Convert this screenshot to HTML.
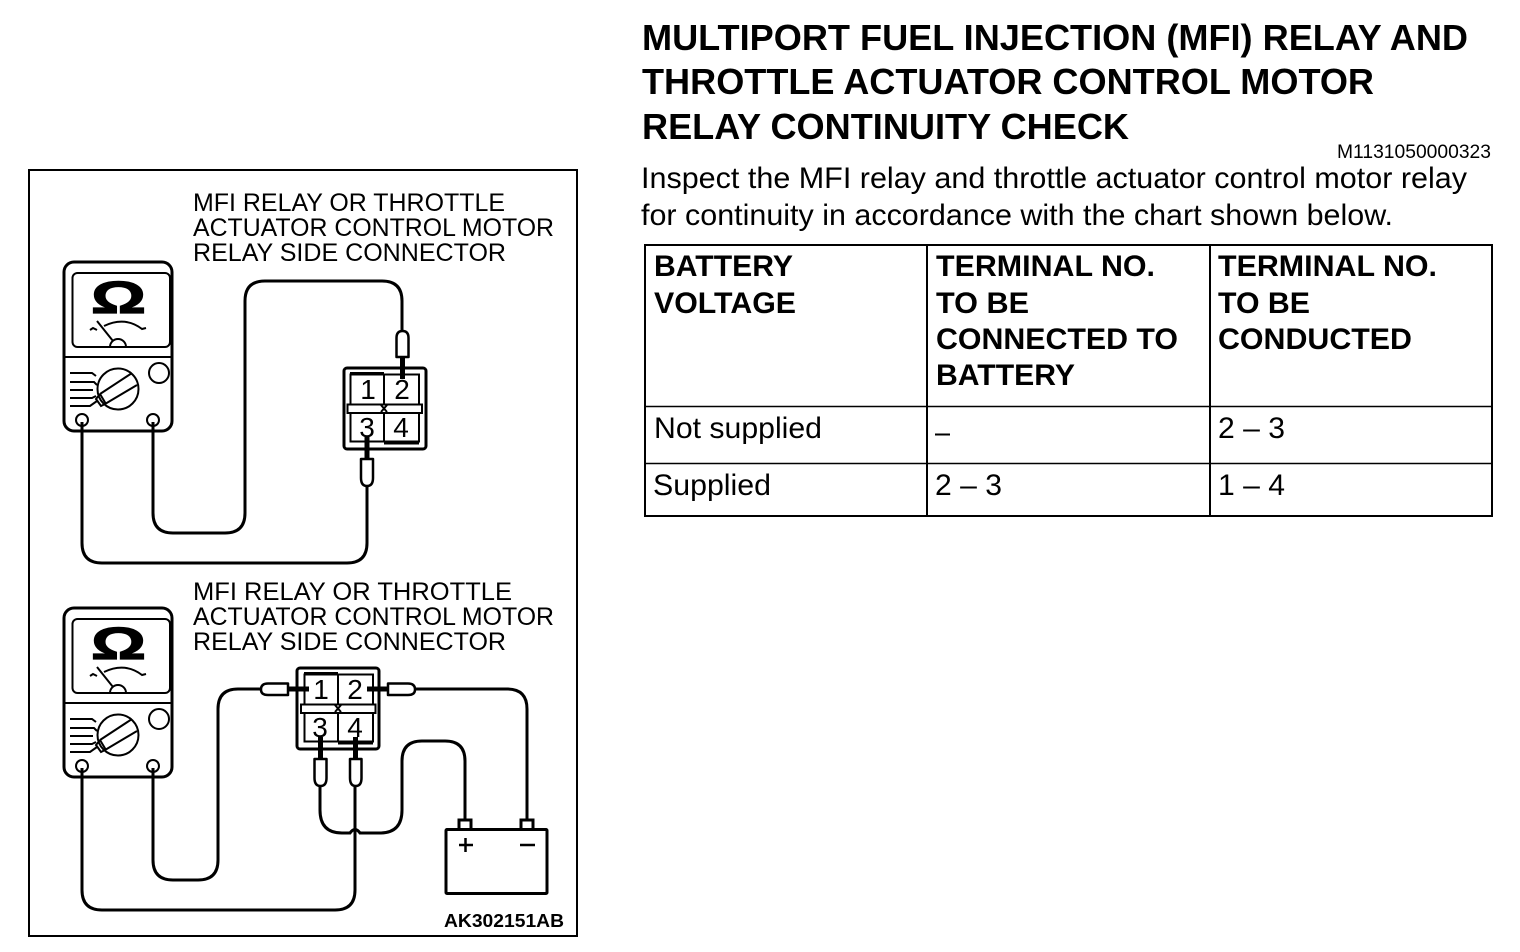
<!DOCTYPE html>
<html><head><meta charset="utf-8"><style>
html,body{margin:0;padding:0;background:#fff}
svg{display:block}
text{font-family:"Liberation Sans",sans-serif;fill:#000}
.t{font-weight:bold;font-size:36px}
.p{font-size:30px}
.h{font-weight:bold;font-size:30px}
.c{font-size:30px}
.l{font-size:25px}
.n{font-size:28px}
.w{fill:none;stroke:#000;stroke-width:3}
.m{fill:none;stroke:#000;stroke-width:2}
.th{fill:none;stroke:#000;stroke-width:5}
.o{font-weight:bold;font-size:45px;stroke:#000;stroke-width:1.200}
.pr{fill:#fff;stroke:#000;stroke-width:2.500;stroke-linejoin:round}
</style></head><body>
<svg width="1520" height="952" viewBox="0 0 1520 952" xmlns="http://www.w3.org/2000/svg">
<rect width="1520" height="952" fill="#fff"/>

<text class="t" x="642" y="50" textLength="826" lengthAdjust="spacingAndGlyphs">MULTIPORT FUEL INJECTION (MFI) RELAY AND</text>
<text class="t" x="642" y="94" textLength="732" lengthAdjust="spacingAndGlyphs">THROTTLE ACTUATOR CONTROL MOTOR</text>
<text class="t" x="642" y="139" textLength="487" lengthAdjust="spacingAndGlyphs">RELAY CONTINUITY CHECK</text>
<text x="1337" y="158" font-size="19" textLength="154" lengthAdjust="spacingAndGlyphs">M1131050000323</text>
<text class="p" x="641" y="188" textLength="826" lengthAdjust="spacingAndGlyphs">Inspect the MFI relay and throttle actuator control motor relay</text>
<text class="p" x="641" y="225" textLength="752" lengthAdjust="spacingAndGlyphs">for continuity in accordance with the chart shown below.</text>

<g fill="none" stroke="#000">
<rect x="645" y="245" width="847" height="271" stroke-width="2"/>
<path d="M927 245V516M1210 245V516" stroke-width="2"/>
<path d="M645 406.500H1492M645 463.500H1492" stroke-width="1.500"/>
</g>
<text class="h" x="654" y="276" textLength="139" lengthAdjust="spacingAndGlyphs">BATTERY</text>
<text class="h" x="654" y="313" textLength="142" lengthAdjust="spacingAndGlyphs">VOLTAGE</text>
<text class="h" x="936" y="276" textLength="219" lengthAdjust="spacingAndGlyphs">TERMINAL NO.</text>
<text class="h" x="936" y="313" textLength="93" lengthAdjust="spacingAndGlyphs">TO BE</text>
<text class="h" x="936" y="349" textLength="242" lengthAdjust="spacingAndGlyphs">CONNECTED TO</text>
<text class="h" x="936" y="385" textLength="139" lengthAdjust="spacingAndGlyphs">BATTERY</text>
<text class="h" x="1218" y="276" textLength="219" lengthAdjust="spacingAndGlyphs">TERMINAL NO.</text>
<text class="h" x="1218" y="313" textLength="92" lengthAdjust="spacingAndGlyphs">TO BE</text>
<text class="h" x="1218" y="349" textLength="194" lengthAdjust="spacingAndGlyphs">CONDUCTED</text>
<text class="c" x="654" y="438" textLength="168" lengthAdjust="spacingAndGlyphs">Not supplied</text>
<text class="c" x="935" y="442" textLength="15" lengthAdjust="spacingAndGlyphs">–</text>
<text class="c" x="1218" y="438" textLength="67" lengthAdjust="spacingAndGlyphs">2 – 3</text>
<text class="c" x="653" y="495" textLength="118" lengthAdjust="spacingAndGlyphs">Supplied</text>
<text class="c" x="935" y="495" textLength="67" lengthAdjust="spacingAndGlyphs">2 – 3</text>
<text class="c" x="1218" y="495" textLength="67" lengthAdjust="spacingAndGlyphs">1 – 4</text>

<rect x="29" y="170" width="548" height="766" fill="none" stroke="#000" stroke-width="2"/>

<text class="l" x="193" y="211" textLength="312" lengthAdjust="spacingAndGlyphs">MFI RELAY OR THROTTLE</text>
<text class="l" x="193" y="236" textLength="361" lengthAdjust="spacingAndGlyphs">ACTUATOR CONTROL MOTOR</text>
<text class="l" x="193" y="261" textLength="313" lengthAdjust="spacingAndGlyphs">RELAY SIDE CONNECTOR</text>
<text class="l" x="193" y="600" textLength="319" lengthAdjust="spacingAndGlyphs">MFI RELAY  OR THROTTLE</text>
<text class="l" x="193" y="625" textLength="361" lengthAdjust="spacingAndGlyphs">ACTUATOR CONTROL MOTOR</text>
<text class="l" x="193" y="650" textLength="313" lengthAdjust="spacingAndGlyphs">RELAY SIDE CONNECTOR</text>

<!-- meter 1 -->
<g>
<rect x="64" y="262" width="108" height="169" rx="10" class="w"/>
<rect x="72.500" y="273" width="97.500" height="74" rx="5" class="m"/>
<path d="M64 357H172" class="m"/>
<text class="o" x="91" y="313" textLength="55" lengthAdjust="spacingAndGlyphs">Ω</text>
<path d="M90 330L93 328L97 330M104 326Q125 316 142 329L146 328M97 321L113 341" class="m"/>
<path d="M110 347A8 8 0 0 1 126 347" class="m"/>
<circle cx="118" cy="389" r="20.500" class="m"/>
<path d="M100 394L132 373M105 404L137 385M100 394L96 399L101 406L105 404M100 394L106 404" class="m"/>
<path d="M70 373H92L96 376M70 382H94L97 385M70 390H93M70 398H92L96 396M70 406H90L97 401" class="m"/>
<circle cx="159" cy="373" r="10" class="m"/>
<circle cx="82" cy="420" r="6" class="m"/>
<circle cx="153" cy="420" r="6" class="m"/>
</g>
<!-- meter 2 -->
<g transform="translate(0 346)">
<rect x="64" y="262" width="108" height="169" rx="10" class="w"/>
<rect x="72.500" y="273" width="97.500" height="74" rx="5" class="m"/>
<path d="M64 357H172" class="m"/>
<text class="o" x="91" y="313" textLength="55" lengthAdjust="spacingAndGlyphs">Ω</text>
<path d="M90 330L93 328L97 330M104 326Q125 316 142 329L146 328M97 321L113 341" class="m"/>
<path d="M110 347A8 8 0 0 1 126 347" class="m"/>
<circle cx="118" cy="389" r="20.500" class="m"/>
<path d="M100 394L132 373M105 404L137 385M100 394L96 399L101 406L105 404M100 394L106 404" class="m"/>
<path d="M70 373H92L96 376M70 382H94L97 385M70 390H93M70 398H92L96 396M70 406H90L97 401" class="m"/>
<circle cx="159" cy="373" r="10" class="m"/>
<circle cx="82" cy="420" r="6" class="m"/>
<circle cx="153" cy="420" r="6" class="m"/>
</g>

<!-- wires top -->
<path class="w" d="M153 422V513Q153 533 173 533H225Q245 533 245 513V301Q245 281 265 281H382Q402 281 402 301V331"/>
<path class="w" d="M82 422V543Q82 563 102 563H347Q367 563 367 543V486"/>

<!-- connector 1 -->
<g>
<rect x="344" y="368" width="82" height="81" rx="3" class="w"/>
<rect x="350.500" y="374.500" width="68.500" height="67" class="m"/>
<path d="M350 373H384M384 374V441M384 443.500H419" class="m"/>
<rect x="347.500" y="404.500" width="74.500" height="8.500" fill="#fff" stroke="#000" stroke-width="2"/>
<path d="M381 405L387 412M387 405L381 412" class="m"/>
<text class="n" x="368" y="399" text-anchor="middle">1</text>
<text class="n" x="402" y="399" text-anchor="middle">2</text>
<text class="n" x="367" y="437" text-anchor="middle">3</text>
<text class="n" x="401" y="437" text-anchor="middle">4</text>
<path d="M402.500 357V379M367 436V458" class="th"/>
<path class="pr" d="M396.500 357V338Q396.500 331 402.500 331Q408.500 331 408.500 338V357Z"/>
<path class="pr" d="M361 459H373V478Q373 486 367 486Q361 486 361 478Z"/>
</g>

<!-- wires bottom -->
<path class="w" d="M153 768V860Q153 880 173 880H198Q218 880 218 860V709Q218 689 238 689H262"/>
<path class="w" d="M415 689H507Q527 689 527 709V820"/>
<path class="w" d="M82 768V890Q82 910 102 910H335Q355 910 355 890V787"/>
<path class="w" d="M320 786V810Q320 833 342 833H350Q355 826 360 833H380Q402 833 402 810V761Q402 741 422 741H445Q465 741 465 761V820"/>

<!-- connector 2 -->
<g>
<rect x="297" y="668" width="82" height="81" rx="3" class="w"/>
<rect x="304.500" y="674.500" width="68.500" height="67" class="m"/>
<path d="M304 673H338M338 674V741M338 743.500H373" class="m"/>
<rect x="301" y="704.500" width="74.500" height="8.500" fill="#fff" stroke="#000" stroke-width="2"/>
<path d="M335 705L341 712M341 705L335 712" class="m"/>
<text class="n" x="321" y="699" text-anchor="middle">1</text>
<text class="n" x="355" y="699" text-anchor="middle">2</text>
<text class="n" x="320" y="737" text-anchor="middle">3</text>
<text class="n" x="355" y="737" text-anchor="middle">4</text>
<path d="M287 689H309M367 689H389M320.500 737V759M355.500 737V759" class="th"/>
<path class="pr" d="M288 683.500H268Q261 683.500 261 689.500Q261 695 268 695H288Z"/>
<path class="pr" d="M388 683.500H408Q415 683.500 415 689.500Q415 695 408 695H388Z"/>
<path class="pr" d="M314.500 759H326.500V778Q326.500 786 320.500 786Q314.500 786 314.500 778Z"/>
<path class="pr" d="M350 759H361.500V778Q361.500 786 355.700 786Q350 786 350 778Z"/>
</g>

<!-- battery -->
<rect x="446" y="829.500" width="101" height="64" rx="1" class="w"/>
<rect x="459" y="820" width="12" height="9.500" class="w"/>
<rect x="521" y="820" width="12" height="9.500" class="w"/>
<path d="M459 845H473M465.500 838V852M520 845H535" fill="none" stroke="#000" stroke-width="2.500"/>

<text x="444" y="927" font-size="18" font-weight="bold" textLength="120" lengthAdjust="spacingAndGlyphs">AK302151AB</text>
</svg>
</body></html>
